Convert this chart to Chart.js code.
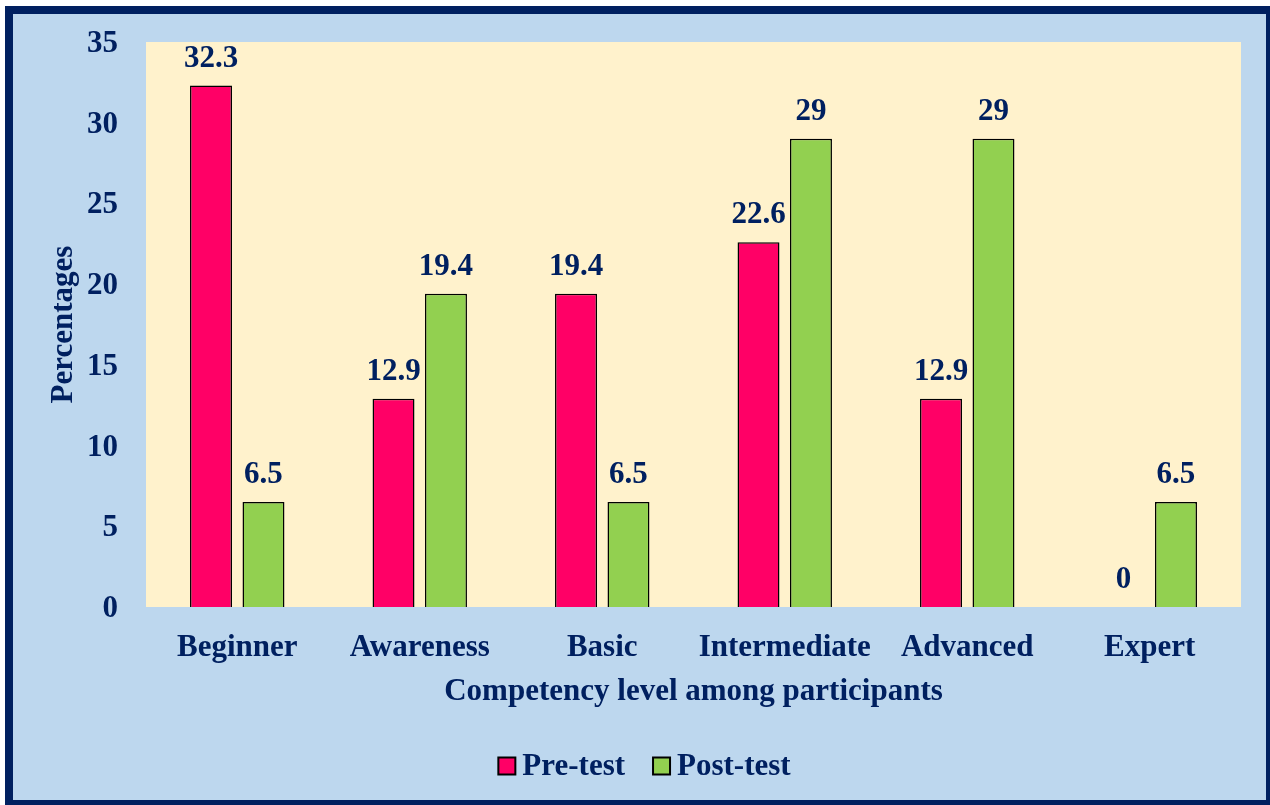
<!DOCTYPE html>
<html>
<head>
<meta charset="utf-8">
<script src="https://cdn.jsdelivr.net/npm/chart.js@4.4.1/dist/chart.umd.min.js"></script>
<style>
  html, body { margin: 0; padding: 0; background: #fff; overflow: hidden; }
  #frame {
    position: absolute; left: 5px; top: 6px; width: 1269px; height: 802px;
    box-sizing: border-box; border: 8px solid #002060; background: #BDD7EE;
  }
  #wrap { position: absolute; left: 0; top: 0; width: 1270px; height: 805px; }
</style>
</head>
<body>
<div id="frame"></div>
<div id="wrap"><canvas id="myChart" width="1270" height="805"></canvas></div>
<script>
// chart values
const levels = ['Beginner', 'Awareness', 'Basic', 'Intermediate', 'Advanced', 'Expert'];
const preTest = [32.3, 12.9, 19.4, 22.6, 12.9, 0];
const postTest = [6.5, 19.4, 6.5, 29, 29, 6.5];
const seriesNames = ['Pre-test', 'Post-test'];
const yTicks = [0, 5, 10, 15, 20, 25, 30, 35];

const navy = '#002060';
const font = 'Liberation Serif, Times New Roman, serif';

// cream plot background
const plotBg = {
  id: 'plotBg',
  beforeDraw(chart) {
    const {ctx, chartArea: a} = chart;
    ctx.save();
    ctx.fillStyle = '#FFF2CC';
    ctx.fillRect(a.left, a.top, a.right - a.left, a.bottom - a.top);
    ctx.restore();
  }
};

// value labels above bars
const barLabels = {
  id: 'barLabels',
  afterDatasetsDraw(chart) {
    const ctx = chart.ctx;
    ctx.save();
    ctx.font = 'bold 31px ' + font;
    ctx.fillStyle = navy;
    ctx.textAlign = 'center';
    ctx.textBaseline = 'middle';
    chart.data.datasets.forEach((ds, i) => {
      chart.getDatasetMeta(i).data.forEach((bar, j) => {
        ctx.fillText(String(ds.data[j]), bar.x, bar.y - 27);
      });
    });
    ctx.restore();
  }
};

// legend drawn by hand so spacing matches
const bottomLegend = {
  id: 'bottomLegend',
  afterDraw(chart) {
    const ctx = chart.ctx;
    ctx.save();
    ctx.font = 'bold 31px ' + font;
    const box = 17, gap = 7, itemGap = 28;
    const items = chart.data.datasets.map(ds => ({
      text: ds.label, color: ds.backgroundColor, w: ctx.measureText(ds.label).width
    }));
    let total = 0;
    items.forEach((it, i) => { total += box + gap + it.w + (i ? itemGap : 0); });
    let x = 644.5 - total / 2;
    const cy = 766;
    items.forEach(it => {
      ctx.fillStyle = it.color;
      ctx.fillRect(x, cy - box / 2, box, box);
      ctx.lineWidth = 2;
      ctx.strokeStyle = '#000';
      ctx.strokeRect(x, cy - box / 2, box, box);
      ctx.fillStyle = navy;
      ctx.textAlign = 'left';
      ctx.textBaseline = 'middle';
      ctx.fillText(it.text, x + box + gap, cy + 1);
      x += box + gap + it.w + itemGap;
    });
    ctx.restore();
  }
};

const ctx = document.getElementById('myChart').getContext('2d');
new Chart(ctx, {
  type: 'bar',
  data: {
    labels: levels,
    datasets: [
      {
        label: seriesNames[0],
        data: preTest,
        backgroundColor: '#FF0066',
        borderColor: '#000',
        borderWidth: 1.5
      },
      {
        label: seriesNames[1],
        data: postTest,
        backgroundColor: '#92D050',
        borderColor: '#000',
        borderWidth: 1.5
      }
    ]
  },
  options: {
    responsive: false,
    animation: false,
    devicePixelRatio: 1,
    layout: { padding: { left: 0, right: 29, top: 42, bottom: 94 } },
    datasets: { bar: { categoryPercentage: 0.575, barPercentage: 0.8 } },
    plugins: {
      legend: { display: false },
      tooltip: { enabled: false }
    },
    scales: {
      x: {
        grid: { display: false, drawTicks: false },
        border: { display: false },
        ticks: {
          color: navy,
          padding: 22,
          font: { family: font, size: 31, weight: 'bold' }
        },
        title: {
          display: true,
          text: 'Competency level among participants',
          color: navy,
          padding: { top: 0, bottom: 0 },
          font: { family: font, size: 31, weight: 'bold' }
        },
        afterFit(scale) {
          scale.height = 104;
          scale.paddingLeft = 0;
          scale.paddingRight = 0;
        }
      },
      y: {
        min: 0,
        max: 35,
        grid: { display: false, drawTicks: false },
        border: { display: false },
        afterBuildTicks(scale) { scale.ticks = yTicks.map(v => ({ value: v })); },
        ticks: {
          color: navy,
          padding: 28,
          labelOffset: 2,
          font: { family: font, size: 31, weight: 'bold' }
        },
        title: {
          display: true,
          text: 'Percentages',
          color: navy,
          padding: { top: 45, bottom: 0 },
          font: { family: font, size: 31, weight: 'bold' }
        },
        afterFit(scale) {
          scale.width = 146;
          scale.paddingTop = 0;
          scale.paddingBottom = 0;
        }
      }
    }
  },
  plugins: [plotBg, barLabels, bottomLegend]
});
</script>
</body>
</html>
